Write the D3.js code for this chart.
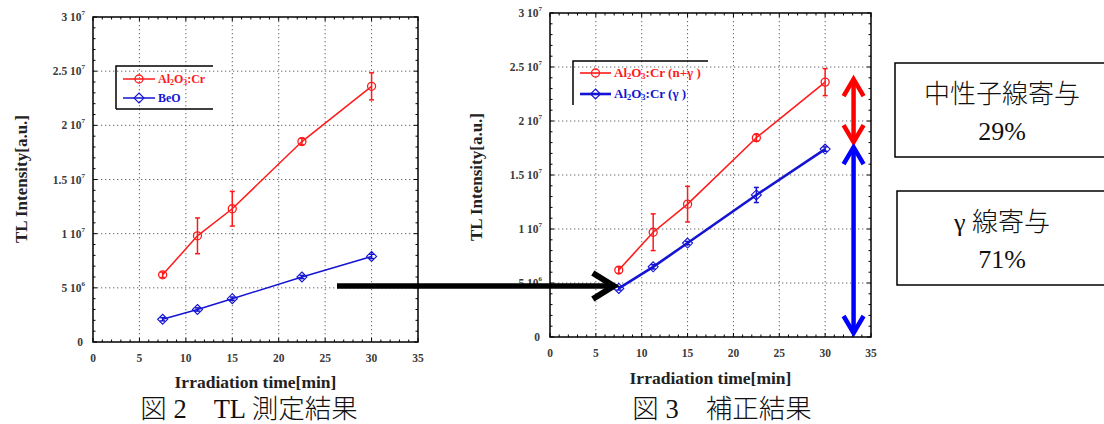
<!DOCTYPE html>
<html>
<head>
<meta charset="utf-8">
<script src="https://cdn.jsdelivr.net/npm/d3@7"></script>
<style>
  html, body { margin: 0; padding: 0; background: #fff; }
  svg { display: block; }
</style>
</head>
<body>
<svg id="chart" width="1104" height="424"></svg>
<script>
// Irradiation times (min)
const times = [7.5, 11.25, 15, 22.5, 30];

// Fig. 2: measured TL intensity
const al2o3Measured = [6.2e6, 9.8e6, 12.3e6, 18.5e6, 23.6e6];
const al2o3MeasuredErr = [0.25e6, 1.65e6, 1.6e6, 0.3e6, 1.25e6];
const beoMeasured = [2.1e6, 3.0e6, 4.0e6, 6.0e6, 7.9e6];
const beoMeasuredErr = [0.15e6, 0.15e6, 0.15e6, 0.15e6, 0.2e6];

// Fig. 3: corrected (n+γ total vs γ only)
const al2o3Total = [6.2e6, 9.7e6, 12.3e6, 18.45e6, 23.6e6];
const al2o3TotalErr = [0.3e6, 1.7e6, 1.65e6, 0.3e6, 1.25e6];
const al2o3Gamma = [4.5e6, 6.5e6, 8.7e6, 13.15e6, 17.4e6];
const al2o3GammaErr = [0.15e6, 0.2e6, 0.15e6, 0.7e6, 0.2e6];

// Axis ticks
const xTickValues = [0, 5, 10, 15, 20, 25, 30, 35];
const yTickValues = [0, 5e6, 1e7, 1.5e7, 2e7, 2.5e7, 3e7];
const yTickMantissa = ["0", "5 10", "1 10", "1.5 10", "2 10", "2.5 10", "3 10"];
const yTickExponent = ["", "6", "7", "7", "7", "7", "7"];

// Captions, split into Latin and CJK runs
const caption2 = [["図", "cjk"], [" 2　TL ", "lat"], ["測定結果", "cjk"]];
const caption3 = [["図", "cjk"], [" 3　", "lat"], ["補正結果", "cjk"]];

// Contribution boxes
const neutronLabel = [["中性子線寄与", "cjk"]];
const neutronShare = [["29%", "lat"]];
const gammaLabel = [["γ ", "lat"], ["線寄与", "cjk"]];
const gammaShare = [["71%", "lat"]];

const RED = "#ff1a1a";
const BLUE = "#1414d2";
const SERIF = "'Liberation Serif', 'DejaVu Serif', serif";
const CJKFONT = "'Noto Sans CJK JP', sans-serif";

const svg = d3.select("#chart");

function mixedText(sel, parts) {
  parts.forEach(([t, kind]) => {
    sel.append("tspan")
      .attr("font-family", kind === "cjk" ? CJKFONT : SERIF)
      .attr("font-weight", kind === "cjk" ? 300 : "normal")
      .text(t);
  });
}

function drawPanel(cfg) {
  const g = svg.append("g");
  const x = d3.scaleLinear().domain([0, 35]).range([cfg.left, cfg.right]);
  const y = d3.scaleLinear().domain([0, 3e7]).range([cfg.bottom, cfg.top]);

  // dotted grid
  g.append("g").selectAll("line.gx")
    .data(xTickValues.slice(1, -1)).join("line")
    .attr("x1", d => x(d)).attr("x2", d => x(d))
    .attr("y1", cfg.top).attr("y2", cfg.bottom)
    .attr("stroke", "#666").attr("stroke-width", 1)
    .attr("stroke-dasharray", "1.3,2.7");
  g.append("g").selectAll("line.gy")
    .data(yTickValues.slice(1, -1)).join("line")
    .attr("x1", cfg.left).attr("x2", cfg.right)
    .attr("y1", d => y(d)).attr("y2", d => y(d))
    .attr("stroke", "#666").attr("stroke-width", 1)
    .attr("stroke-dasharray", "1.3,2.7");

  // inward ticks on all four sides
  const minorX = d3.range(0, 36, 1);
  const minorY = d3.range(0, 3.01e7, 1e6);
  const tk = g.append("g").attr("stroke", "#000").attr("stroke-width", 1);
  minorX.forEach(v => {
    const len = v % 5 === 0 ? 4 : 2.5;
    tk.append("line").attr("x1", x(v)).attr("x2", x(v)).attr("y1", cfg.bottom).attr("y2", cfg.bottom - len);
    tk.append("line").attr("x1", x(v)).attr("x2", x(v)).attr("y1", cfg.top).attr("y2", cfg.top + len);
  });
  minorY.forEach(v => {
    const len = Math.round(v / 1e6) % 5 === 0 ? 4 : 2.5;
    tk.append("line").attr("y1", y(v)).attr("y2", y(v)).attr("x1", cfg.left).attr("x2", cfg.left + len);
    tk.append("line").attr("y1", y(v)).attr("y2", y(v)).attr("x1", cfg.right).attr("x2", cfg.right - len);
  });

  // frame
  g.append("rect")
    .attr("x", cfg.left).attr("y", cfg.top)
    .attr("width", cfg.right - cfg.left).attr("height", cfg.bottom - cfg.top)
    .attr("fill", "none").attr("stroke", "#000").attr("stroke-width", 1.5);

  // x tick labels
  g.append("g").selectAll("text")
    .data(xTickValues).join("text")
    .attr("x", d => x(d)).attr("y", cfg.bottom + cfg.xLabelDy)
    .attr("text-anchor", "middle")
    .attr("font-family", SERIF).attr("font-weight", "bold")
    .attr("font-size", 11.5).attr("fill", "#3a3a3a")
    .text(d => d);

  // y tick labels: mantissa and raised exponent
  const yl = g.append("g").selectAll("text")
    .data(yTickValues).join("text")
    .attr("x", (d, i) => cfg.left - (yTickExponent[i] ? 8 : 10))
    .attr("y", d => y(d) + 4)
    .attr("text-anchor", "end")
    .attr("font-family", SERIF).attr("font-weight", "bold")
    .attr("font-size", 11.5).attr("fill", "#3a3a3a");
  yl.append("tspan").text((d, i) => yTickMantissa[i]);
  yl.append("tspan")
    .attr("dy", -6).attr("font-size", 7)
    .text((d, i) => yTickExponent[i]);

  // axis titles
  g.append("text")
    .attr("x", (cfg.left + cfg.right) / 2 + cfg.xTitleShift).attr("y", cfg.bottom + cfg.xTitleDy)
    .attr("text-anchor", "middle")
    .attr("font-family", SERIF).attr("font-weight", "bold")
    .attr("font-size", 17.5).attr("fill", "#222")
    .text("Irradiation time[min]");
  g.append("text")
    .attr("transform", `translate(${cfg.yTitleX},${cfg.yTitleY}) rotate(-90)`)
    .attr("text-anchor", "middle")
    .attr("font-family", SERIF).attr("font-weight", "bold")
    .attr("font-size", 17).attr("fill", "#222")
    .text("TL Intensity[a.u.]");

  // caption
  mixedText(g.append("text")
    .attr("x", cfg.captionX).attr("y", 418)
    .attr("text-anchor", "middle")
    .attr("font-size", 26.5).attr("fill", "#111"), cfg.caption);

  const line = d3.line().x((d, i) => x(times[i])).y(d => y(d));

  cfg.series.forEach(s => {
    const sg = g.append("g");
    sg.append("path")
      .datum(s.values)
      .attr("d", line)
      .attr("fill", "none").attr("stroke", s.color).attr("stroke-width", s.width);
    // error bars
    s.values.forEach((v, i) => {
      const e = s.errors[i];
      const cx = x(times[i]);
      sg.append("line").attr("x1", cx).attr("x2", cx).attr("y1", y(v - e)).attr("y2", y(v + e))
        .attr("stroke", s.color).attr("stroke-width", 1.5);
      [v - e, v + e].forEach(w => {
        sg.append("line").attr("x1", cx - 2.5).attr("x2", cx + 2.5).attr("y1", y(w)).attr("y2", y(w))
          .attr("stroke", s.color).attr("stroke-width", 1.5);
      });
    });
    // markers
    s.values.forEach((v, i) => drawMarker(sg, s.marker, x(times[i]), y(v), s.color));
  });

  // legend
  const lg = g.append("g");
  const L = cfg.legend;
  const frame = d3.path();
  frame.moveTo(L.x0, L.y1); frame.lineTo(L.x0, L.y0);
  frame.lineTo(L.x2, L.y0);
  lg.append("path").attr("d", frame.toString())
    .attr("fill", "none").attr("stroke", "#000").attr("stroke-width", 1.5);
  if (L.bottom) {
    lg.append("line").attr("x1", L.x0).attr("x2", L.x2).attr("y1", L.y1).attr("y2", L.y1)
      .attr("stroke", "#000").attr("stroke-width", 1.5);
  }
  cfg.series.forEach((s, i) => {
    const ly = L.rows[i];
    lg.append("line").attr("x1", L.lineX0).attr("x2", L.lineX1).attr("y1", ly).attr("y2", ly)
      .attr("stroke", s.color).attr("stroke-width", s.width);
    drawMarker(lg, s.marker, (L.lineX0 + L.lineX1) / 2, ly, s.color);
    const t = lg.append("text").attr("x", L.textX).attr("y", ly + 4)
      .attr("font-family", SERIF).attr("font-weight", "bold")
      .attr("font-size", L.fontSize).attr("fill", s.color);
    s.label.forEach(part => {
      const ts = t.append("tspan").text(part.t);
      if (part.sub) ts.attr("font-size", L.fontSize * 0.65).attr("dy", 2);
      if (part.up) ts.attr("dy", -2);
    });
  });

  return { x, y };
}

function drawMarker(g, type, cx, cy, color) {
  if (type === "circle") {
    g.append("circle").attr("cx", cx).attr("cy", cy).attr("r", 4)
      .attr("fill", "none").attr("stroke", color).attr("stroke-width", 1.3);
  } else {
    const r = 5;
    g.append("path")
      .attr("d", `M${cx},${cy - r}L${cx + r},${cy}L${cx},${cy + r}L${cx - r},${cy}Z`)
      .attr("fill", "none").attr("stroke", color).attr("stroke-width", 1.1);
  }
}

const chemLabel = [
  { t: "Al" }, { t: "2", sub: true }, { t: "O", up: true }, { t: "3", sub: true }, { t: ":Cr", up: true }
];

drawPanel({
  left: 93, right: 418, top: 17, bottom: 342,
  xTitleShift: 0, xTitleDy: 46, xLabelDy: 20, yTitleX: 27, yTitleY: 179,
  caption: caption2, captionX: 249,
  legend: { x0: 116, x2: 213, y0: 66, y1: 109, bottom: true, fontSize: 12,
            rows: [79, 98], lineX0: 123, lineX1: 155, textX: 158 },
  series: [
    { values: al2o3Measured, errors: al2o3MeasuredErr, color: RED, width: 1.5, marker: "circle",
      label: chemLabel },
    { values: beoMeasured, errors: beoMeasuredErr, color: BLUE, width: 1.5, marker: "diamond",
      label: [{ t: "BeO" }] }
  ]
});

const right = drawPanel({
  left: 550, right: 871, top: 13, bottom: 337,
  xTitleShift: 0, xTitleDy: 47, xLabelDy: 20, yTitleX: 482, yTitleY: 177,
  caption: caption3, captionX: 722,
  legend: { x0: 573, x2: 708, y0: 61, y1: 105, bottom: false, fontSize: 13,
            rows: [73, 94], lineX0: 580, lineX1: 611, textX: 614 },
  series: [
    { values: al2o3Total, errors: al2o3TotalErr, color: RED, width: 1.6, marker: "circle",
      label: chemLabel.concat([{ t: " (n+γ )" }]) },
    { values: al2o3Gamma, errors: al2o3GammaErr, color: BLUE, width: 2.6, marker: "diamond",
      label: chemLabel.concat([{ t: " (γ )" }]) }
  ]
});

// Arrow from the BeO level in Fig. 2 to the γ-only start point in Fig. 3
const arrowY = 286;
const ann = svg.append("g").attr("fill", "none").attr("stroke-linecap", "butt").attr("stroke-linejoin", "miter");
const tipX = right.x(times[0]) - 5;
ann.append("line").attr("x1", 337).attr("x2", tipX - 3).attr("y1", arrowY).attr("y2", arrowY)
  .attr("stroke", "#000").attr("stroke-width", 5.5);
ann.append("path").attr("d", `M${tipX - 21},${arrowY - 13}L${tipX},${arrowY}L${tipX - 21},${arrowY + 13}`)
  .attr("stroke", "#000").attr("stroke-width", 6);

// Double arrows splitting the 30 min value into neutron and γ parts
function doubleArrow(xp, y0, y1, color) {
  ann.append("line").attr("x1", xp).attr("x2", xp).attr("y1", y0 + 2).attr("y2", y1 - 2)
    .attr("stroke", color).attr("stroke-width", 4.5);
  ann.append("path").attr("d", `M${xp - 10},${y0 + 17}L${xp},${y0}L${xp + 10},${y0 + 17}`)
    .attr("stroke", color).attr("stroke-width", 4.5);
  ann.append("path").attr("d", `M${xp - 10},${y1 - 17}L${xp},${y1}L${xp + 10},${y1 - 17}`)
    .attr("stroke", color).attr("stroke-width", 4.5);
}
const arrowX = right.x(33.1);
doubleArrow(arrowX, right.y(al2o3Total[4]) - 3, right.y(al2o3Gamma[4]) - 7, "#ff0000");
doubleArrow(arrowX, right.y(al2o3Gamma[4]) - 2, right.y(0) - 4, "#0000ff");

// Contribution boxes
function infoBox(x0, y0, x1, y1, line1, line2) {
  const b = svg.append("g");
  b.append("rect").attr("x", x0).attr("y", y0).attr("width", x1 - x0).attr("height", y1 - y0)
    .attr("fill", "#fff").attr("stroke", "#000").attr("stroke-width", 1.5);
  const cx = 1002;
  mixedText(b.append("text").attr("x", cx).attr("y", y0 + 40).attr("text-anchor", "middle")
    .attr("font-size", 26).attr("fill", "#111"), line1);
  mixedText(b.append("text").attr("x", cx).attr("y", y0 + 77).attr("text-anchor", "middle")
    .attr("font-size", 26).attr("fill", "#111"), line2);
}
infoBox(895, 63, 1106, 157, neutronLabel, neutronShare);
infoBox(897, 191, 1106, 285, gammaLabel, gammaShare);
</script>
</body>
</html>
